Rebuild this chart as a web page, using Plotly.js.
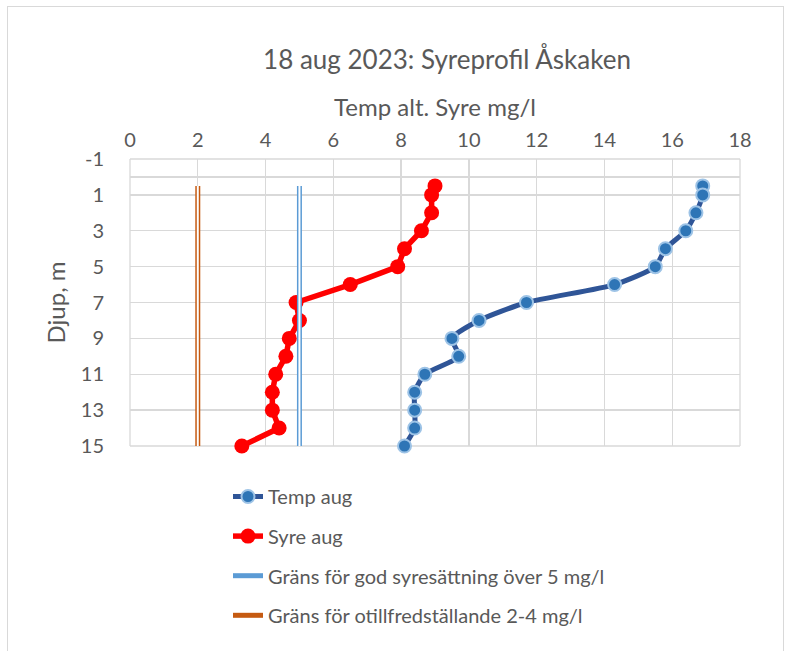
<!DOCTYPE html>
<html>
<head>
<meta charset="utf-8">
<script src="https://cdn.plot.ly/plotly-3.0.1.min.js"></script>
<style>
html,body{margin:0;padding:0;background:#fff;}
#chart{width:790px;height:651px;}
#frame{position:absolute;left:7px;top:6px;width:775px;height:700px;border:1px solid #d9d9d9;pointer-events:none;}
</style>
</head>
<body>
<div id="chart"></div>
<div id="frame"></div>
<script>
const depth = [0.5, 1, 2, 3, 4, 5, 6, 7, 8, 9, 10, 11, 12, 13, 14, 15];
const tempAug = [16.9, 16.9, 16.7, 16.4, 15.8, 15.5, 14.3, 11.7, 10.3, 9.5, 9.7, 8.7, 8.4, 8.4, 8.4, 8.1];
const syreAug = [9.0, 8.9, 8.9, 8.6, 8.1, 7.9, 6.5, 4.9, 5.0, 4.7, 4.6, 4.3, 4.2, 4.2, 4.4, 3.3];
const limitDepth = [0.5, 15];
const godLimit = [5, 5];
const otillLimit = [2, 2];
const xTicks = [0, 2, 4, 6, 8, 10, 12, 14, 16, 18];
const yTicks = [-1, 1, 3, 5, 7, 9, 11, 13, 15];

const txt = '#595959';
const fontFam = 'Lato, "Open Sans", sans-serif';

const traces = [
  {
    name: 'Temp aug', x: tempAug, y: depth, type: 'scatter', mode: 'lines+markers',
    line: {color: '#2F5597', width: 5, shape: 'spline', smoothing: 0.6},
    marker: {color: '#2E75B6', size: 13, line: {color: '#9DC3E6', width: 2}},
    legendgroup: 'a', cliponaxis: false
  },
  {
    name: 'Syre aug', x: syreAug, y: depth, type: 'scatter', mode: 'lines+markers',
    line: {color: '#FF0000', width: 5.5},
    marker: {color: '#FF0000', size: 15},
    legendgroup: 'b', cliponaxis: false
  },
  {
    name: 'Gräns för god syresättning över 5 mg/l', x: godLimit, y: limitDepth, type: 'scatter', mode: 'lines',
    line: {color: '#5B9BD5', width: 5}, legendgroup: 'c', cliponaxis: false
  },
  {
    name: 'inner5', x: godLimit, y: limitDepth, type: 'scatter', mode: 'lines',
    line: {color: '#ffffff', width: 2}, showlegend: false, legendgroup: 'c', hoverinfo: 'skip', cliponaxis: false
  },
  {
    name: 'Gräns för otillfredställande 2-4 mg/l', x: otillLimit, y: limitDepth, type: 'scatter', mode: 'lines',
    line: {color: '#C55A11', width: 5}, legendgroup: 'd', cliponaxis: false
  },
  {
    name: 'inner2', x: otillLimit, y: limitDepth, type: 'scatter', mode: 'lines',
    line: {color: '#ffffff', width: 2}, showlegend: false, legendgroup: 'd', hoverinfo: 'skip', cliponaxis: false
  }
];

const gridC = '#d9d9d9';
const layout = {
  width: 790, height: 651,
  margin: {l: 130, r: 50, t: 159, b: 205, autoexpand: false},
  paper_bgcolor: '#ffffff', plot_bgcolor: '#ffffff',
  font: {family: fontFam, color: txt, size: 18},
  title: {
    text: '18 aug 2023: Syreprofil Åskaken',
    font: {size: 26, color: txt, family: fontFam},
    x: 447 / 790, xref: 'container', xanchor: 'center',
    y: 1 - 60 / 651, yref: 'container', yanchor: 'middle'
  },
  xaxis: {
    side: 'top', range: [0, 18], tickvals: xTicks, ticktext: xTicks.map(String),
    showgrid: true, gridcolor: gridC, gridwidth: 1.3, automargin: true,
    zeroline: false, showline: false, ticks: 'outside', ticklen: 3, tickcolor: 'rgba(0,0,0,0)',
    tickfont: {size: 20, color: txt},
    title: {text: 'Temp alt. Syre mg/l', font: {size: 24, color: txt}, standoff: 3}
  },
  yaxis: {
    range: [15, -1], tickvals: yTicks, ticktext: yTicks.map(String),
    showgrid: true, gridcolor: gridC, gridwidth: 1.3, automargin: true,
    zeroline: true, zerolinecolor: gridC, zerolinewidth: 1.3,
    showline: false, ticks: 'outside', ticklen: 21, tickcolor: 'rgba(0,0,0,0)',
    tickfont: {size: 20, color: txt},
    title: {text: 'Djup, m', font: {size: 24, color: txt}, standoff: 8}
  },
  shapes: [
    {type: 'line', xref: 'paper', yref: 'paper', x0: 0, x1: 0, y0: 0, y1: 1, line: {color: gridC, width: 1.3}, layer: 'below'},
    {type: 'line', xref: 'paper', yref: 'paper', x0: 1, x1: 1, y0: 0, y1: 1, line: {color: gridC, width: 1.3}, layer: 'below'},
    {type: 'line', xref: 'paper', yref: 'paper', x0: 0, x1: 1, y0: 0, y1: 0, line: {color: gridC, width: 1.3}, layer: 'below'},
    {type: 'line', xref: 'paper', yref: 'paper', x0: 0, x1: 1, y0: 1, y1: 1, line: {color: gridC, width: 1.3}, layer: 'below'}
  ],
  showlegend: true,
  legend: {
    xref: 'paper', yref: 'paper',
    x: (228 - 130) / 610, y: 1 - (477 - 159) / 287, xanchor: 'left', yanchor: 'top',
    font: {size: 20, color: txt, family: fontFam},
    traceorder: 'grouped', tracegroupgap: 10.6,
    bgcolor: 'rgba(0,0,0,0)'
  },
  hovermode: false
};

Plotly.newPlot('chart', traces, layout, {displayModeBar: false, staticPlot: true});
</script>
</body>
</html>
